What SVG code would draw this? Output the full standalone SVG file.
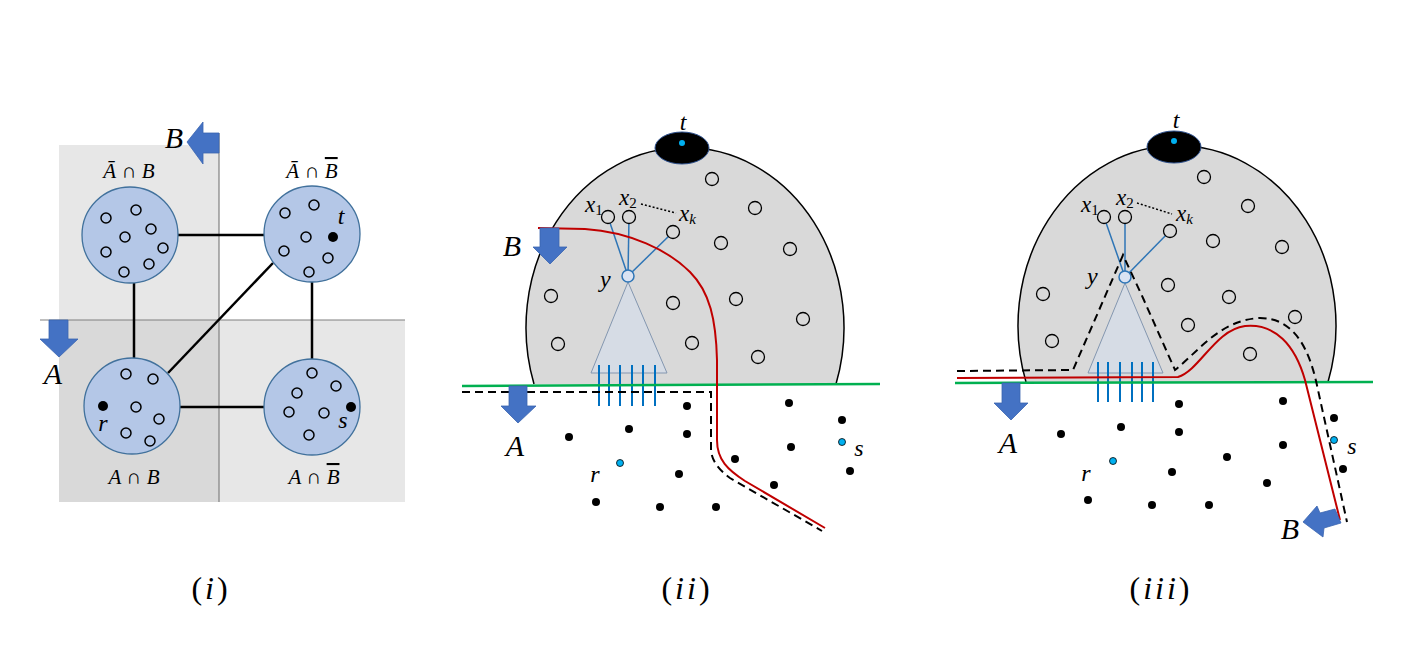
<svg xmlns="http://www.w3.org/2000/svg" width="1422" height="664" viewBox="0 0 1422 664">
<style>
text{font-family:"Liberation Serif","DejaVu Serif",serif;fill:#000}
.it{font-style:italic}
.big{font-size:30px;font-style:italic}
.lab{font-size:21px}
.sm{font-size:24px;font-style:italic}
.xl{font-size:23px;font-style:italic}
.cap{font-size:32px;letter-spacing:3px}
.ov{text-decoration:overline}
.reg{fill:#b4c7e7;stroke:#41719c;stroke-width:1.3}
.oc{fill:none;stroke:#000;stroke-width:1.5}
.dc{fill:#d9d9d9;stroke:#000;stroke-width:1.3}
.edge{stroke:#000;stroke-width:2.5;fill:none}
.arr{fill:#4472c4;stroke:#3a64b0;stroke-width:0.8}
.dome{fill:#d9d9d9;stroke:#000;stroke-width:1.5}
.green{stroke:#00b050;stroke-width:2.5;fill:none}
.red{stroke:#c00000;stroke-width:2;fill:none}
.dash{stroke:#000;stroke-width:2;fill:none;stroke-dasharray:8 5}
.tree{stroke:#2e75b6;stroke-width:1.5;fill:none}
.leaf{stroke:#0070c0;stroke-width:2}
.tri{fill:#d6dce5;stroke:#8497b0;stroke-width:1}
.yc{fill:#dae3f3;stroke:#2e75b6;stroke-width:1.5}
.dot{fill:#000}
.cy{fill:#00b0f0;stroke:#000;stroke-width:0.8}
</style>

<!-- Panel (i) -->
<g id="panel-i-regions">
<rect x="59" y="145" width="160" height="175" fill="#e7e7e7"/>
<rect x="59" y="320" width="160" height="182" fill="#d9d9d9"/>
<rect x="219" y="320" width="186" height="182" fill="#e7e7e7"/>
<line x1="219" y1="133" x2="219" y2="502" stroke="#808080" stroke-width="1.2"/>
<line x1="40" y1="320" x2="405" y2="320" stroke="#808080" stroke-width="1.2"/>
</g>
<g id="connectors-i">
<line class="edge" x1="178" y1="235" x2="264" y2="235"/>
<line class="edge" x1="134" y1="283" x2="134" y2="358"/>
<line class="edge" x1="312" y1="282" x2="312" y2="359"/>
<line class="edge" x1="180" y1="407" x2="264" y2="407"/>
<line class="edge" x1="273" y1="263" x2="168" y2="373"/>
</g>
<g id="node-AbarB">
<circle class="reg" cx="130" cy="235" r="48"/>
<circle class="oc" cx="106" cy="218" r="5"/><circle class="oc" cx="136" cy="210" r="5"/>
<circle class="oc" cx="151" cy="229" r="5"/><circle class="oc" cx="125" cy="237" r="5"/>
<circle class="oc" cx="106" cy="252" r="5"/><circle class="oc" cx="163" cy="248" r="5"/>
<circle class="oc" cx="149" cy="264" r="5"/><circle class="oc" cx="124" cy="272" r="5"/>
<text class="lab it" x="129" y="178" text-anchor="middle">Ā ∩ B</text>
</g>
<g id="node-AbarBbar">
<circle class="reg" cx="312" cy="234" r="48"/>
<circle class="oc" cx="285" cy="213" r="5"/><circle class="oc" cx="314" cy="205" r="5"/>
<circle class="oc" cx="306" cy="237" r="5"/><circle class="oc" cx="284" cy="251" r="5"/>
<circle class="oc" cx="328" cy="258" r="5"/><circle class="oc" cx="309" cy="272" r="5"/>
<circle cx="333" cy="237" r="5" fill="#000"/>
<text class="sm" x="341" y="224" text-anchor="middle">t</text>
<text class="lab it" x="312" y="178" text-anchor="middle">Ā ∩ <tspan class="ov">B</tspan></text>
</g>
<g id="node-AB">
<circle class="reg" cx="132" cy="406" r="48"/>
<circle class="oc" cx="126" cy="374" r="5"/><circle class="oc" cx="153" cy="379" r="5"/>
<circle class="oc" cx="136" cy="407" r="5"/><circle class="oc" cx="159" cy="419" r="5"/>
<circle class="oc" cx="126" cy="433" r="5"/><circle class="oc" cx="150" cy="441" r="5"/>
<circle cx="103" cy="406" r="5" fill="#000"/>
<text class="sm" x="103" y="431" text-anchor="middle">r</text>
<text class="lab it" x="134" y="484" text-anchor="middle">A ∩ B</text>
</g>
<g id="node-ABbar">
<circle class="reg" cx="312" cy="407" r="48"/>
<circle class="oc" cx="312" cy="373" r="5"/><circle class="oc" cx="336" cy="386" r="5"/>
<circle class="oc" cx="297" cy="393" r="5"/><circle class="oc" cx="289" cy="412" r="5"/>
<circle class="oc" cx="324" cy="413" r="5"/><circle class="oc" cx="309" cy="435" r="5"/>
<circle cx="351" cy="407" r="5" fill="#000"/>
<text class="sm" x="343" y="428" text-anchor="middle">s</text>
<text class="lab it" x="314" y="484" text-anchor="middle">A ∩ <tspan class="ov">B</tspan></text>
</g>
<g id="arrows-i">
<polygon class="arr" points="187,142 203,122 203,133 219,133 219,153 203,153 203,164"/>
<text class="big" x="174" y="148" text-anchor="middle">B</text>
<polygon class="arr" points="49,320 68,320 68,339 78,339 59,357 40,339 49,339"/>
<text class="big" x="53" y="384" text-anchor="middle">A</text>
</g>

<!-- Panel (ii) -->
<g id="dome-ii">
<path class="dome" d="M534 384 A159 180 0 1 1 836 384"/>
<ellipse cx="682" cy="148" rx="27" ry="16" fill="#000" stroke="#2f528f" stroke-width="1"/>
<circle cx="682" cy="143" r="3" fill="#00b0f0"/>
<text class="sm" x="683" y="130" text-anchor="middle">t</text>
<circle class="dc" cx="712" cy="179" r="6.5"/><circle class="dc" cx="755" cy="208" r="6.5"/>
<circle class="dc" cx="721" cy="243" r="6.5"/><circle class="dc" cx="790" cy="249" r="6.5"/>
<circle class="dc" cx="551" cy="296" r="6.5"/><circle class="dc" cx="673" cy="303" r="6.5"/>
<circle class="dc" cx="736" cy="299" r="6.5"/><circle class="dc" cx="803" cy="319" r="6.5"/>
<circle class="dc" cx="558" cy="344" r="6.5"/><circle class="dc" cx="692" cy="343" r="6.5"/>
<circle class="dc" cx="758" cy="357" r="6.5"/>
</g>
<g id="tree-ii">
<polygon class="tri" points="628,282 591,373 667,373"/>
<line class="tree" x1="628" y1="276" x2="608" y2="217"/>
<line class="tree" x1="628" y1="276" x2="629" y2="217"/>
<line class="tree" x1="628" y1="276" x2="673" y2="232"/>
<line x1="641" y1="204" x2="676" y2="213" stroke="#000" stroke-width="1.5" stroke-dasharray="2 2"/>
<circle class="dc" cx="608" cy="217" r="6.5"/><circle class="dc" cx="629" cy="217" r="6.5"/>
<circle class="dc" cx="673" cy="232" r="6.5"/>
<circle class="yc" cx="628" cy="276" r="6"/>
<text class="xl" x="585" y="212">x<tspan font-size="15" font-style="normal" dy="3">1</tspan></text>
<text class="xl" x="619" y="205">x<tspan font-size="15" font-style="normal" dy="3">2</tspan></text>
<text class="xl" x="679" y="221">x<tspan font-size="15" dy="3">k</tspan></text>
<text class="sm" x="600" y="287" font-size="26">y</text>
<g class="leaf"><line x1="599" y1="365" x2="599" y2="406"/><line x1="609" y1="365" x2="609" y2="406"/><line x1="620" y1="365" x2="620" y2="406"/><line x1="632" y1="365" x2="632" y2="406"/><line x1="643" y1="365" x2="643" y2="406"/><line x1="655" y1="365" x2="655" y2="406"/></g>
</g>
<g id="points-ii">
<circle class="dot" cx="687" cy="406" r="4"/><circle class="dot" cx="789" cy="403" r="4"/>
<circle class="dot" cx="842" cy="420" r="4"/><circle class="dot" cx="569" cy="437" r="4"/>
<circle class="dot" cx="629" cy="429" r="4"/><circle class="dot" cx="687" cy="434" r="4"/>
<circle class="dot" cx="791" cy="447" r="4"/><circle class="dot" cx="735" cy="459" r="4"/>
<circle class="dot" cx="850" cy="471" r="4"/><circle class="dot" cx="679" cy="474" r="4"/>
<circle class="dot" cx="774" cy="485" r="4"/><circle class="dot" cx="596" cy="502" r="4"/>
<circle class="dot" cx="660" cy="507" r="4"/><circle class="dot" cx="716" cy="507" r="4"/>
<circle class="cy" cx="620" cy="463" r="3.5"/><circle class="cy" cx="842" cy="442" r="3.5"/>
<text class="sm" x="595" y="482" text-anchor="middle">r</text>
<text class="sm" x="859" y="456" text-anchor="middle">s</text>
</g>
<g id="connectors-ii">
<line class="green" x1="462" y1="386" x2="880" y2="384"/>
<path class="dash" d="M462 392 L711 392 L711 450 Q712 465 730 478 L822 531"/>
<path class="red" d="M538 228 L585 229 C630 232 668 250 690 272 C710 292 716 320 717 360 L717 440 C717 460 728 470 745 481 L825 528"/>
</g>
<g id="arrows-ii">
<polygon class="arr" points="540,228 559,228 559,247 567,247 550,264 533,247 540,247"/>
<text class="big" x="512" y="256" text-anchor="middle">B</text>
<polygon class="arr" points="509,386 527,386 527,406 536,406 518,423 501,406 509,406"/>
<text class="big" x="515" y="456" text-anchor="middle">A</text>
</g>

<!-- Panel (iii) -->
<g id="dome-iii">
<path class="dome" d="M1026 382 A159 180 0 1 1 1328 382"/>
<ellipse cx="1174" cy="147" rx="27" ry="16" fill="#000" stroke="#2f528f" stroke-width="1"/>
<circle cx="1174" cy="141" r="3" fill="#00b0f0"/>
<text class="sm" x="1176" y="128" text-anchor="middle">t</text>
<circle class="dc" cx="1204" cy="177" r="6.5"/><circle class="dc" cx="1248" cy="206" r="6.5"/>
<circle class="dc" cx="1213" cy="241" r="6.5"/><circle class="dc" cx="1282" cy="247" r="6.5"/>
<circle class="dc" cx="1043" cy="294" r="6.5"/><circle class="dc" cx="1168" cy="285" r="6.5"/>
<circle class="dc" cx="1229" cy="297" r="6.5"/><circle class="dc" cx="1295" cy="317" r="6.5"/>
<circle class="dc" cx="1052" cy="341" r="6.5"/><circle class="dc" cx="1188" cy="325" r="6.5"/>
<circle class="dc" cx="1250" cy="354" r="6.5"/>
</g>
<g id="tree-iii">
<polygon class="tri" points="1125,283 1088,373 1163,373"/>
<line class="tree" x1="1125" y1="277" x2="1104" y2="217"/>
<line class="tree" x1="1125" y1="277" x2="1125" y2="217"/>
<line class="tree" x1="1125" y1="277" x2="1170" y2="231"/>
<line x1="1137" y1="203" x2="1172" y2="214" stroke="#000" stroke-width="1.5" stroke-dasharray="2 2"/>
<circle class="dc" cx="1104" cy="217" r="6.5"/><circle class="dc" cx="1125" cy="217" r="6.5"/>
<circle class="dc" cx="1170" cy="231" r="6.5"/>
<circle class="yc" cx="1125" cy="277" r="6"/>
<text class="xl" x="1081" y="212">x<tspan font-size="15" font-style="normal" dy="3">1</tspan></text>
<text class="xl" x="1116" y="205">x<tspan font-size="15" font-style="normal" dy="3">2</tspan></text>
<text class="xl" x="1176" y="221">x<tspan font-size="15" dy="3">k</tspan></text>
<text class="sm" x="1087" y="284" font-size="26">y</text>
<g class="leaf"><line x1="1098" y1="362" x2="1098" y2="402"/><line x1="1108" y1="362" x2="1108" y2="402"/><line x1="1120" y1="362" x2="1120" y2="402"/><line x1="1132" y1="362" x2="1132" y2="402"/><line x1="1142" y1="362" x2="1142" y2="402"/><line x1="1153" y1="362" x2="1153" y2="402"/></g>
</g>
<g id="points-iii">
<circle class="dot" cx="1179" cy="404" r="4"/><circle class="dot" cx="1283" cy="401" r="4"/>
<circle class="dot" cx="1334" cy="418" r="4"/><circle class="dot" cx="1061" cy="434" r="4"/>
<circle class="dot" cx="1121" cy="427" r="4"/><circle class="dot" cx="1179" cy="432" r="4"/>
<circle class="dot" cx="1283" cy="445" r="4"/><circle class="dot" cx="1227" cy="457" r="4"/>
<circle class="dot" cx="1343" cy="469" r="4"/><circle class="dot" cx="1172" cy="472" r="4"/>
<circle class="dot" cx="1267" cy="483" r="4"/><circle class="dot" cx="1088" cy="500" r="4"/>
<circle class="dot" cx="1152" cy="505" r="4"/><circle class="dot" cx="1209" cy="505" r="4"/>
<circle class="cy" cx="1113" cy="461" r="3.5"/><circle class="cy" cx="1334" cy="440" r="3.5"/>
<text class="sm" x="1086" y="481" text-anchor="middle">r</text>
<text class="sm" x="1352" y="454" text-anchor="middle">s</text>
</g>
<g id="connectors-iii">
<line class="green" x1="955" y1="383" x2="1373" y2="382"/>
<path class="dash" d="M957 371 L1073 370 L1123 255 L1143 298 L1175 370 C1200 350 1220 320 1260 318 C1295 318 1310 350 1318 390 L1347 522"/>
<path class="red" d="M957 378 L1178 377 C1200 370 1215 330 1245 326 C1275 323 1295 345 1305 380 L1340 520"/>
</g>
<g id="arrows-iii">
<polygon class="arr" points="1002,383 1020,383 1020,403 1028,403 1011,420 994,403 1002,403"/>
<text class="big" x="1008" y="453" text-anchor="middle">A</text>
<polygon class="arr" points="1303,522 1317,506 1320,513 1335,509 1341,523 1324,528 1323,537"/>
<text class="big" x="1290" y="539" text-anchor="middle">B</text>
</g>

<!-- captions -->
<g id="captions">
<text class="cap" x="211" y="599" text-anchor="middle">(<tspan class="it">i</tspan>)</text>
<text class="cap" x="687" y="599" text-anchor="middle">(<tspan class="it">ii</tspan>)</text>
<text class="cap" x="1161" y="599" text-anchor="middle">(<tspan class="it">iii</tspan>)</text>
</g>
</svg>
